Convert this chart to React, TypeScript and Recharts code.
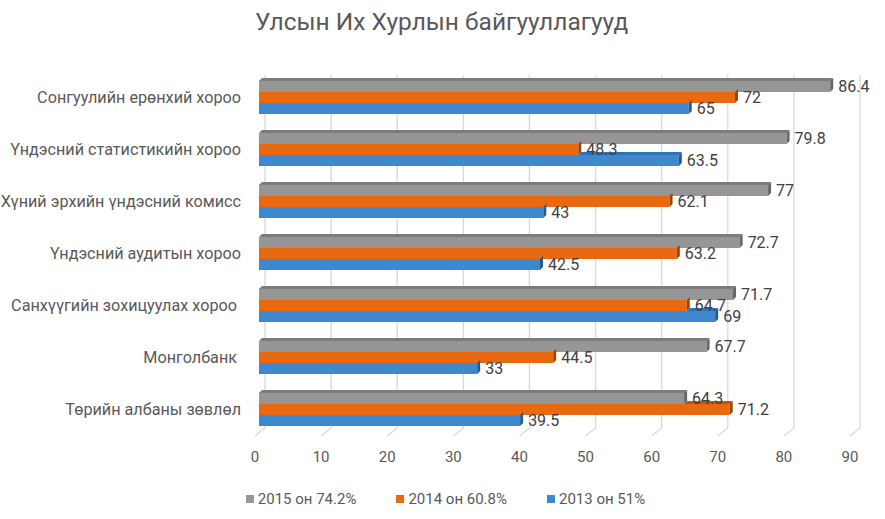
import React from 'react';
import { BarChart, Bar, XAxis, YAxis, CartesianGrid, Legend, LabelList } from 'recharts';

const categories = [
  'Сонгуулийн ерөнхий хороо',
  'Үндэсний статистикийн хороо',
  'Хүний эрхийн үндэсний комисс',
  'Үндэсний аудитын хороо',
  'Санхүүгийн зохицуулах хороо ',
  'Монголбанк ',
  'Төрийн албаны зөвлөл',
];
const values2015 = [86.4, 79.8, 77, 72.7, 71.7, 67.7, 64.3];
const values2014 = [72, 48.3, 62.1, 63.2, 64.7, 44.5, 71.2];
const values2013 = [65, 63.5, 43, 42.5, 69, 33, 39.5];
const xTicks = [0, 10, 20, 30, 40, 50, 60, 70, 80, 90];
const seriesNames = ['2015 он 74.2%', '2014 он 60.8%', '2013 он 51%'];
const title = 'Улсын Их Хурлын байгууллагууд';

const data = categories.map((name, i) => ({
  name,
  v2015: values2015[i],
  v2014: values2014[i],
  v2013: values2013[i],
}));

const FONT = 'Roboto, "Open Sans", sans-serif';
const D = 3;

const make3D = (front: string, top: string, side: string, ownKey: string, aboveKey?: string) =>
  (props: any) => {
    const { x, y, width, height, payload } = props;
    if (!width || width <= 0) return <g />;
    const v = payload[ownKey];
    let xs = x;
    if (aboveKey) {
      const va = payload[aboveKey];
      xs = Math.max(x, x + (width * va) / v);
    }
    const xe = x + width;
    return (
      <g>
        {xs < xe && (
          <polygon
            points={`${xs},${y} ${xe},${y} ${xe + D},${y - D} ${xs + D},${y - D}`}
            fill={top}
          />
        )}
        <rect x={x} y={y} width={width} height={height} fill={front} />
        <polygon
          points={`${xe},${y} ${xe + D},${y - D} ${xe + D},${y + height - D} ${xe},${y + height}`}
          fill={side}
        />
      </g>
    );
  };

const GridLine = (props: any) => {
  const { x1, y1, y2 } = props;
  return (
    <path
      d={`M${x1 + 6},${y1 + 4} L${x1 + 6},${y2 - 7} L${x1 - 4},${y2 + 1}`}
      stroke="#d9d9d9"
      strokeWidth={1.3}
      fill="none"
    />
  );
};

const XTick = (props: any) => {
  const { x, y, payload } = props;
  return (
    <text x={x - 4} y={y} dy="0.71em" textAnchor="middle" fill="#595959" fontSize={15} fontFamily={FONT}>
      {payload.value}
    </text>
  );
};

const YTick = (props: any) => {
  const { x, y, payload } = props;
  return (
    <text x={x} y={y} dy="0.35em" textAnchor="end" fill="#595959" fontSize={16.2} fontFamily={FONT} style={{ whiteSpace: 'pre' }}>
      {payload.value}
    </text>
  );
};

const LegendContent = (props: any) => {
  const { payload } = props;
  const items = [...(payload || [])].sort(
    (a: any, b: any) => seriesNames.indexOf(a.value) - seriesNames.indexOf(b.value)
  );
  return (
    <div style={{ display: 'flex', justifyContent: 'center', gap: 40, fontFamily: FONT, fontSize: 15, color: '#595959', paddingLeft: 6 }}>
      {items.map((p: any) => (
        <div key={p.value} style={{ display: 'flex', alignItems: 'center' }}>
          <span style={{ display: 'inline-block', width: 8, height: 8, background: p.color, marginRight: 4 }} />
          <span>{p.value}</span>
        </div>
      ))}
    </div>
  );
};

export default function App() {
  return (
    <div style={{ position: 'absolute', left: 0, top: 0, width: 885, height: 519, background: '#fff', fontFamily: FONT }}>
      <div
        style={{
          position: 'absolute',
          left: 255,
          top: 5,
          fontSize: 24.5,
          color: '#595959',
          fontFamily: FONT,
          whiteSpace: 'nowrap',
          lineHeight: '34px',
        }}
      >
        {title}
      </div>
      <BarChart
        width={885}
        height={519}
        data={data}
        layout="vertical"
        margin={{ top: 71, right: 31, left: 0, bottom: 54 }}
        barGap={0}
      >
        <CartesianGrid horizontal={false} vertical={GridLine as any} />
        <XAxis
          type="number"
          domain={[0, 90]}
          ticks={xTicks}
          axisLine={false}
          tickLine={false}
          tickMargin={10}
          height={30}
          tick={XTick}
          interval={0}
        />
        <YAxis
          type="category"
          dataKey="name"
          width={259}
          axisLine={false}
          tickLine={false}
          tickMargin={12}
          tick={YTick}
          interval={0}
        />
        <Legend
          content={LegendContent}
          wrapperStyle={{ position: 'absolute', top: 490, left: 0, width: 885, height: 0, overflow: 'visible' }}
        />
        <Bar dataKey="v2015" name={seriesNames[0]} fill="#969696" barSize={11} isAnimationActive={false}
          shape={make3D('#969696', '#7c7c7c', '#666666', 'v2015')}>
          <LabelList dataKey="v2015" position="right" offset={8} fill="#404040" fontSize={16} fontFamily={FONT} />
        </Bar>
        <Bar dataKey="v2014" name={seriesNames[1]} fill="#e8690f" barSize={11} isAnimationActive={false}
          shape={make3D('#e8690f', '#c2560a', '#9e4507', 'v2014', 'v2015')}>
          <LabelList dataKey="v2014" position="right" offset={8} fill="#404040" fontSize={16} fontFamily={FONT} />
        </Bar>
        <Bar dataKey="v2013" name={seriesNames[2]} fill="#3f88d0" barSize={11} isAnimationActive={false}
          shape={make3D('#3f88d0', '#3272b2', '#255a8f', 'v2013', 'v2014')}>
          <LabelList dataKey="v2013" position="right" offset={8} fill="#404040" fontSize={16} fontFamily={FONT} />
        </Bar>
      </BarChart>
    </div>
  );
}
